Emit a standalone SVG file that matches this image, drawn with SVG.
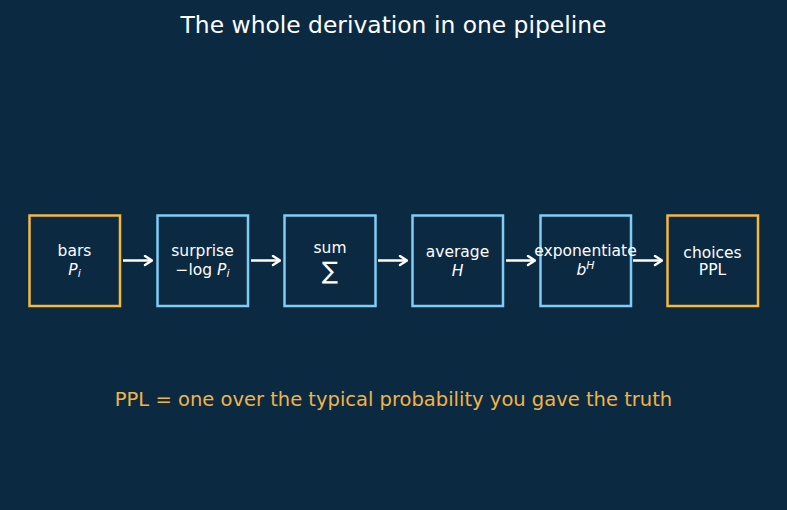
<svg xmlns="http://www.w3.org/2000/svg" width="787" height="510" viewBox="0 0 787 510">
<defs>
<style>
.t{font-family:"DejaVu Sans",sans-serif;fill:#ffffff;text-anchor:middle}
.lbl{font-size:15.5px}
.it{font-style:italic}
.box{fill:#0b2a42;stroke-width:2.5}
.o{stroke:#f5b841}
.b{stroke:#7fcdf7}
.c{stroke:#ffffff;stroke-width:2.5;fill:none}
</style>
<marker id="ah2" viewBox="0 0 12 12" refX="11" refY="6" markerWidth="12" markerHeight="12" orient="auto" markerUnits="userSpaceOnUse">
<path d="M4,1.5 L11,6 L4,10.5" fill="none" stroke="#ffffff" stroke-width="2.4" stroke-linecap="round" stroke-linejoin="round"/>
</marker>
</defs>
<rect width="787" height="510" fill="#0b2a42"/>
<text class="t" x="393.5" y="33" font-size="23.4">The whole derivation in one pipeline</text>
<g id="connectors">
<line class="c" x1="123" y1="260.5" x2="152" y2="260.5" marker-end="url(#ah2)"/>
<line class="c" x1="251" y1="260.5" x2="280" y2="260.5" marker-end="url(#ah2)"/>
<line class="c" x1="378" y1="260.5" x2="407" y2="260.5" marker-end="url(#ah2)"/>
<line class="c" x1="506" y1="260.5" x2="535" y2="260.5" marker-end="url(#ah2)"/>
<line class="c" x1="633" y1="260.5" x2="662" y2="260.5" marker-end="url(#ah2)"/>
</g>
<g id="bars">
<rect class="box o" x="29.5" y="215.5" width="90.5" height="90.5"/>
<text class="t lbl" x="74.5" y="256">bars</text>
<text class="t lbl" x="74.5" y="275"><tspan class="it">P</tspan><tspan class="it" font-size="11" dy="2">i</tspan></text>
</g>
<g id="surprise">
<rect class="box b" x="157.5" y="215.5" width="90.5" height="90.5"/>
<text class="t lbl" x="202.5" y="256">surprise</text>
<text class="t lbl" x="202.5" y="275">−log <tspan class="it">P</tspan><tspan class="it" font-size="11" dy="2">i</tspan></text>
</g>
<g id="sum">
<rect class="box b" x="284.5" y="215.5" width="91" height="90.5"/>
<text class="t lbl" x="330" y="253">sum</text>
<text class="t" x="330" y="279" font-size="24">∑</text>
</g>
<g id="average">
<rect class="box b" x="412.5" y="215.5" width="90.5" height="90.5"/>
<text class="t lbl" x="457.5" y="257">average</text>
<text class="t lbl it" x="457.5" y="276">H</text>
</g>
<g id="exponentiate">
<rect class="box b" x="540.5" y="215.5" width="90.5" height="90.5"/>
<text class="t lbl" x="585.5" y="256">exponentiate</text>
<text class="t lbl" x="585.5" y="275"><tspan class="it">b</tspan><tspan class="it" font-size="11" dy="-6">H</tspan></text>
</g>
<g id="choices">
<rect class="box o" x="667.5" y="215.5" width="90.5" height="90.5"/>
<text class="t lbl" x="712.5" y="258">choices</text>
<text class="t lbl" x="712.5" y="275">PPL</text>
</g>
<text class="t" x="393.5" y="406" font-size="19.5" style="fill:#f0b44a">PPL = one over the typical probability you gave the truth</text>
</svg>
